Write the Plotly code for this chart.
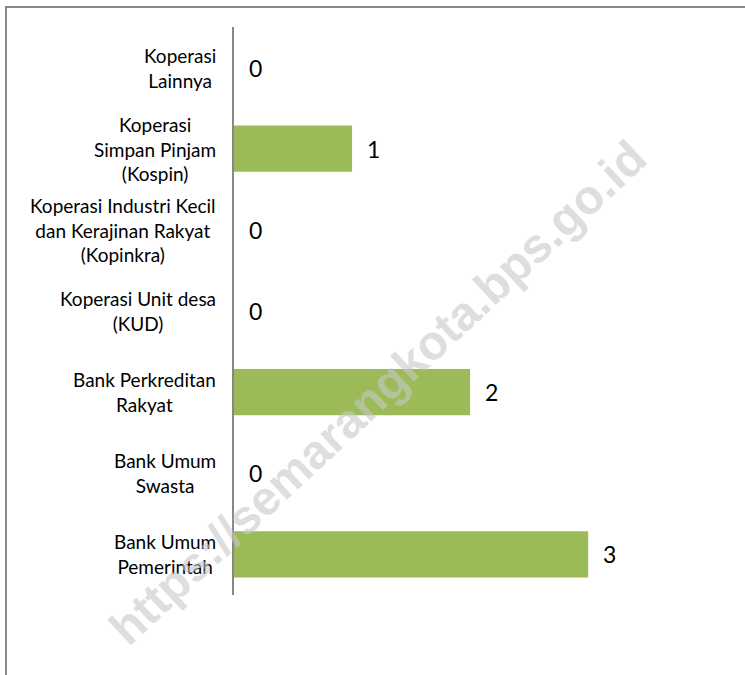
import plotly.graph_objects as go

# categories bottom -> top, as drawn
categories = [
    "Bank Umum<br>Pemerintah",
    "Bank Umum<br>Swasta",
    "Bank Perkreditan<br>Rakyat",
    "Koperasi Unit desa<br>(KUD)",
    "Koperasi Industri Kecil<br>dan Kerajinan Rakyat<br>(Kopinkra)",
    "Koperasi<br>Simpan Pinjam<br>(Kospin)",
    "Koperasi<br>Lainnya",
]
values = [3, 0, 2, 0, 0, 1, 0]
watermark = "https://semarangkota.bps.go.id"

W, H = 745, 675
L, R, T, B = 234, 86, 27, 80
pw, ph = W - L - R, H - T - B


def px(x):
    return (x - L) / pw


def py(y):
    return (H - B - y) / ph


fig = go.Figure(go.Bar(
    x=values, y=categories, orientation="h",
    marker_color="#9BBB59", marker_line_width=0,
))

# value labels
for c, v in zip(categories, values):
    fig.add_annotation(x=v, y=c, xref="x", yref="y", text=str(v),
                       showarrow=False, xanchor="left", xshift=13,
                       font=dict(size=23, color="black"))

# category labels, centered lines, right aligned block
for c in categories:
    fig.add_annotation(x=px(218), xref="paper", y=c, yref="y", text=c,
                       showarrow=False, xanchor="right", align="center",
                       font=dict(size=19, color="black"))

fig.add_annotation(x=px(378), y=py(393), xref="paper", yref="paper",
                   text="<b>" + watermark + "</b>", showarrow=False,
                   textangle=-43, font=dict(size=48, color="rgba(200,200,200,0.6)",
                                            family="Liberation Sans, Arial"))

# frame (top and left edges)
fig.add_shape(type="line", xref="paper", yref="paper",
              x0=px(5), x1=px(745), y0=py(7), y1=py(7),
              line=dict(color="#888888", width=2))
fig.add_shape(type="line", xref="paper", yref="paper",
              x0=px(6), x1=px(6), y0=py(7), y1=py(680),
              line=dict(color="#888888", width=2))

fig.update_layout(
    width=W, height=H, margin=dict(l=L, r=R, t=T, b=B),
    paper_bgcolor="white", plot_bgcolor="white",
    font=dict(family="Lato, Carlito, Calibri, sans-serif"),
    showlegend=False, bargap=0.43,
    xaxis=dict(range=[0, 3.6], visible=False, showgrid=False, zeroline=False),
    yaxis=dict(showticklabels=False, showgrid=False, ticks="",
               showline=True, linecolor="#888888", linewidth=2),
)

fig.write_html("out.html", config={"displayModeBar": False},
               post_script="document.body.style.margin='0';")
